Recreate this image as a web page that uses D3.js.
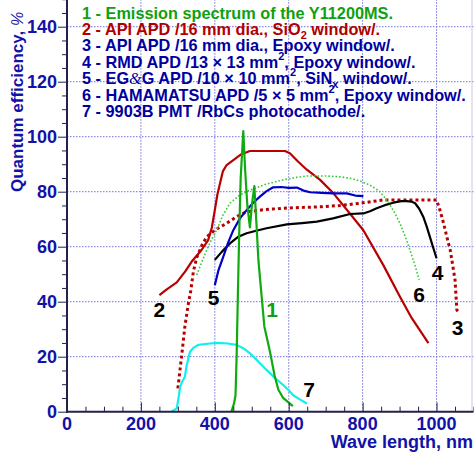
<!DOCTYPE html>
<html><head><meta charset="utf-8">
<script src="https://cdn.jsdelivr.net/npm/d3@7"></script>
<style>
body{margin:0;background:#fff;}
svg{display:block;font-family:"Liberation Sans",Arial,sans-serif;}
</style></head>
<body><svg id="c" width="474" height="457"></svg>
<script>
// ---- data (wavelength nm, efficiency %) ----
const emission = [[445,0],[452,3],[456,6],[459,20],[462,40],[466,65],[470,85],[477,102],[482,88],[488,75],[495,67],[501,76],[507,82],[512,70],[518,55],[528,40],[534,31],[549,22],[562,13],[572,8],[585,5],[611,2]];
const apiSiO2 = [[250,42.4],[270,44.5],[297,47],[320,51],[337,54.5],[364,58.8],[382,62.4],[392,67],[400,73.3],[407,79],[414,83],[422,87.5],[432,89.7],[450,91.5],[470,93.5],[495,94.8],[590,94.8],[603,94],[625,91],[649,88],[685,84.3],[721,79.4],[766,72],[802,66],[856,53.3],[901,41.8],[933,34],[978,24.9]];
const apiEpoxy = [[300,8.5],[310,20],[319,31],[328,39],[335,44],[342,51],[351,56],[365,60.5],[378,63.6],[400,66],[432,68.5],[460,71],[486,72.7],[530,73.4],[585,74],[640,74.3],[685,74.5],[740,75],[793,75.8],[856,77],[920,77],[991,77],[1000,77],[1010,73],[1019,68.5],[1028,63.5],[1037,58.8],[1044,53],[1050,48],[1055,37],[1062,35.8]];
const rmd = [[400,55.2],[420,58.3],[441,61.2],[462,63.5],[486,64.9],[512,65.8],[540,66.7],[595,68.1],[636,68.6],[676,69.1],[720,70.3],[766,71.9],[802,72.1],[820,72.9],[838,74],[860,75.1],[883,76],[905,76.6],[919,76.6],[932,76.4],[942,75.8],[953,73.8],[964,70.9],[973,67.5],[982,63.6],[991,59.6],[1000,55.8]];
const egg = [[400,46],[410,51.5],[423,56.4],[436,61.5],[450,66],[468,70.3],[486,73.3],[504,76],[522,78.2],[540,80.2],[558,81.6],[580,81.7],[600,81.4],[622,81.5],[640,80.4],[658,79.8],[690,79.6],[721,79.4],[757,79.4],[780,78.6],[802,78.4]];
const hamamatsu = [[351,49.7],[365,54.5],[378,58.8],[392,62.8],[405,66],[422,71.5],[441,75.8],[466,78.6],[495,80.6],[540,82.8],[585,84.3],[620,85.2],[649,85.7],[703,85.7],[740,85.4],[766,84.9],[795,83.8],[820,82.4],[845,80.2],[865,77],[884,73],[901,68.5],[915,63.8],[928,58.8],[941,53.5],[953,48]];
const pmt = [[283,0],[297,1.2],[303,6],[306,9],[312,11],[319,12.7],[324,17],[333,21.8],[342,23.2],[355,24.3],[380,24.7],[405,25],[435,24.8],[459,24.3],[478,23],[495,21.2],[518,18.2],[540,15.2],[563,12.2],[585,9.7],[600,7.8],[612,6],[630,4.5],[649,3]];
const curveLabels = [["1",555,37.3,"#10a010"],["2",250,37.3,"#000"],["3",1057,30.6,"#000"],["4",1003,50.6,"#000"],["5",396.5,41.5,"#000"],["6",952.6,42.8,"#000"],["7",655,7.9,"#000"]];
const xTicks = [0,200,400,600,800,1000];
const yTicks = [0,20,40,60,80,100,120,140];
const legendLines = [
  {color:"#10a010", parts:[["1 - Emission spectrum of the Y11200MS."]]},
  {color:"#b00000", parts:[["2 - API APD /16 mm dia., SiO"],["2","sub"],[" window/."]]},
  {color:"#0000a0", parts:[["3 - API APD /16 mm dia., Epoxy window/."]]},
  {color:"#0000a0", parts:[["4 - RMD APD /13 \u00d7 13 mm"],["2","sup"],[", Epoxy window/."]]},
  {color:"#0000a0", parts:[["5 - EG"],["&","amp"],["G APD /10 \u00d7 10 mm"],["2","sup"],[",  SiN"],["x","sub"],[" window/."]]},
  {color:"#0000a0", parts:[["6 - HAMAMATSU APD /5 \u00d7 5 mm"],["2","sup"],[", Epoxy window/."]]},
  {color:"#0000a0", parts:[["7 - 9903B PMT /RbCs photocathode/."]]}
];

// ---- layout ----
const svg = d3.select("#c");
const x = d3.scaleLinear().domain([0,1100]).range([67,473.5]);
const y = d3.scaleLinear().domain([0,150]).range([411.7,-0.8]);
const axisColor = "#22224a", labelColor = "#1212a8";

// grid
const g = svg.append("g");
g.selectAll(".vg").data(xTicks.filter(d=>d>0)).join("line")
  .attr("x1",d=>x(d)).attr("x2",d=>x(d)).attr("y1",y(0)).attr("y2",y(150))
  .attr("stroke","#7070dd").attr("stroke-width",1).attr("stroke-dasharray","1.5,1.5");
g.selectAll(".hg").data(yTicks.filter(d=>d>0)).join("line")
  .attr("x1",x(0)).attr("x2",x(1100)).attr("y1",d=>y(d)).attr("y2",d=>y(d))
  .attr("stroke","#7070dd").attr("stroke-width",1).attr("stroke-dasharray","1.5,1.5");
// right frame
svg.append("line").attr("x1",472).attr("x2",472).attr("y1",0).attr("y2",y(0))
  .attr("stroke","#c8c8e8").attr("stroke-width",1);

// curves
const line = d3.line().x(d=>x(d[0])).y(d=>y(d[1])).curve(d3.curveLinear);
const series = [
  [apiSiO2,"#b80000",2.2,null],
  [apiEpoxy,"#b80000",3,"3,3"],
  [hamamatsu,"#33cc33",1.6,"1.6,2"],
  [rmd,"#000000",2.2,null],
  [egg,"#0000c8",2.2,null],
  [pmt,"#11eeee",2.2,null],
  [emission,"#10aa10",2.2,null]
];
series.forEach(([d,c,w,da])=>{
  svg.append("path").datum(d).attr("d",line).attr("fill","none")
    .attr("stroke",c).attr("stroke-width",w).attr("stroke-linejoin","round")
    .attr("stroke-dasharray",da);
});

// axes
const yAxis = d3.axisLeft(y).tickValues(d3.range(0,151,5)).tickSize(-5).tickFormat("");
const ya = svg.append("g").attr("transform",`translate(${x(0)},0)`).call(yAxis);
ya.selectAll(".tick line").attr("stroke",axisColor).attr("stroke-width",1)
  .attr("x2",d=>d%20===0?-9:-5);
ya.select(".domain").remove();
const xAxis = d3.axisBottom(x).tickValues(d3.range(0,1101,50)).tickSize(-5).tickFormat("");
const xa = svg.append("g").attr("transform",`translate(0,${y(0)})`).call(xAxis);
xa.selectAll(".tick line").attr("stroke",axisColor).attr("stroke-width",1)
  .attr("y2",d=>d%200===0?-9:-5);
xa.select(".domain").remove();
svg.append("line").attr("x1",x(0)).attr("x2",x(0)).attr("y1",0).attr("y2",y(0)+1)
  .attr("stroke",axisColor).attr("stroke-width",2);
svg.append("line").attr("x1",x(0)-1).attr("x2",473.5).attr("y1",y(0)).attr("y2",y(0))
  .attr("stroke",axisColor).attr("stroke-width",2);

// tick labels
svg.selectAll(".yl").data(yTicks).join("text")
  .attr("x",57).attr("y",d=>y(d)+6.5).attr("text-anchor","end")
  .attr("font-size",18).attr("font-weight","bold").attr("fill",labelColor).text(d=>d);
svg.selectAll(".xl").data(xTicks).join("text")
  .attr("x",d=>x(d)).attr("y",430).attr("text-anchor","middle")
  .attr("font-size",18).attr("font-weight","bold").attr("fill",labelColor).text(d=>d);

// axis titles
svg.append("text").attr("x",473).attr("y",447.5).attr("text-anchor","end")
  .attr("font-size",18).attr("font-weight","bold").attr("fill",labelColor).text("Wave length, nm");
const yt = svg.append("text").attr("transform","translate(23,192) rotate(-90)")
  .attr("font-size",17).attr("font-weight","bold").attr("fill",labelColor);
yt.append("tspan").text("Quantum efficiency, ");
yt.append("tspan").attr("font-style","italic").attr("font-weight","normal").attr("font-size",16).text("%");

// legend
const leg = svg.append("g");
legendLines.forEach((L,i)=>{
  const t = leg.append("text").attr("x",82).attr("y",18.5+i*16.4)
    .attr("font-size",16.3).attr("font-weight","bold").attr("fill",L.color);
  L.parts.forEach(([s,k])=>{
    const ts = t.append("tspan").text(s);
    if(k==="sub"){ts.attr("font-size",11).attr("dy",4).attr("class","shift");}
    else if(k==="sup"){ts.attr("font-size",11).attr("dy",-8).attr("class","shift");}
    else if(k==="amp"){ts.attr("font-family","Liberation Serif, serif").attr("font-weight","normal").attr("font-style","italic");}
  });
  // restore baseline after sub/sup
  let prevShift=0;
  t.selectAll("tspan").each(function(){
    const el=d3.select(this);
    const dy=+el.attr("dy")||0;
    if(!el.classed("shift")){ if(prevShift){el.attr("dy",-prevShift);} prevShift=0; }
    else prevShift=dy;
  });
});

// curve labels
svg.selectAll(".cl").data(curveLabels).join("text")
  .attr("x",d=>x(d[1])).attr("y",d=>y(d[2])+7.5).attr("text-anchor","middle")
  .attr("font-size",21).attr("font-weight","bold").attr("fill",d=>d[3]).text(d=>d[0]);
</script></body></html>
